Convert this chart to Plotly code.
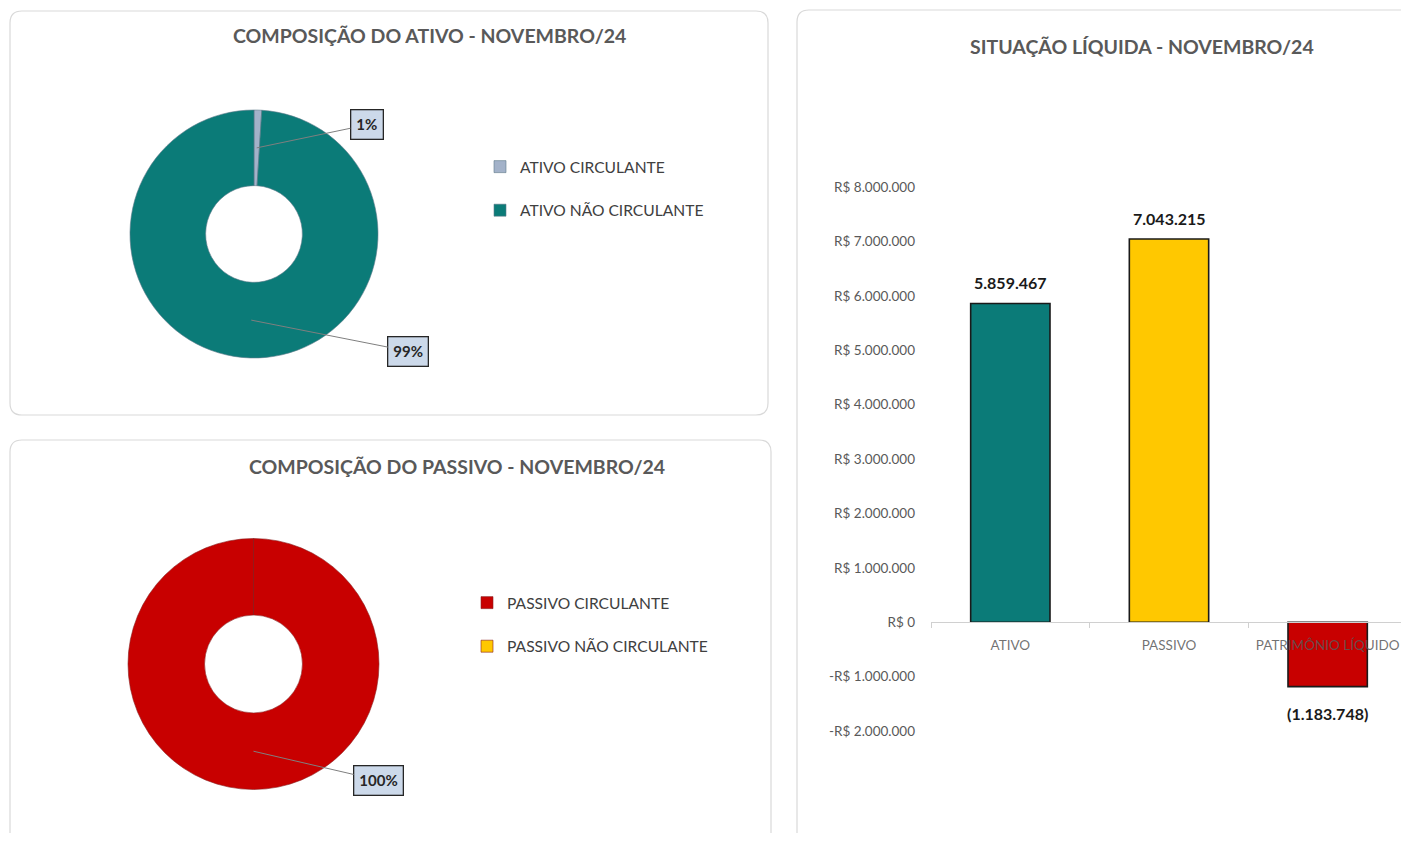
import math
import plotly.graph_objects as go

# figure size (page body has an 8px margin, so the figure is the window minus 16px)
FW, FH = 1393, 825
OFF = 8

# ---------------- data ----------------
ativo_labels = ["ATIVO CIRCULANTE", "ATIVO NÃO CIRCULANTE"]
ativo_values = [58600, 5800867]
ativo_colors = ["#A3B2C9", "#0B7B78"]

passivo_labels = ["PASSIVO CIRCULANTE", "PASSIVO NÃO CIRCULANTE"]
passivo_values = [7043215, 0]
passivo_colors = ["#C80000", "#FFC800"]

sit_categories = ["ATIVO", "PASSIVO", "PATRIMÔNIO LÍQUIDO"]
sit_values = [5859467, 7043215, -1183748]
sit_colors = ["#0B7B78", "#FFC800", "#C80000"]

y_tickvals = [8000000, 7000000, 6000000, 5000000, 4000000, 3000000, 2000000, 1000000, 0, -1000000, -2000000]

titles = ["COMPOSIÇÃO DO ATIVO - NOVEMBRO/24",
          "COMPOSIÇÃO DO PASSIVO - NOVEMBRO/24",
          "SITUAÇÃO LÍQUIDA - NOVEMBRO/24"]

FONT = "Lato"
GRAY = "#595959"


def PX(x):  # window pixel -> paper x
    return (x - OFF) / FW


def PY(y):  # window pixel -> paper y
    return 1 - (y - OFF) / FH


def br_num(v):
    return f"{abs(int(v)):,}".replace(",", ".")


def money(v):
    return ("-" if v < 0 else "") + "R$ " + br_num(v)


def label_num(v):
    return br_num(v) if v >= 0 else "(" + br_num(v) + ")"


fig = go.Figure()

# ---------------- pies ----------------
pie_boxes = {
    "ativo": dict(x0=130, x1=378, y0=110, y1=358),
    "passivo": dict(x0=128, x1=379, y0=538, y1=790),
}
HOLE = 0.39


def pdomain(b):
    return dict(x=[PX(b["x0"]), PX(b["x1"])], y=[PY(b["y1"]), PY(b["y0"])])


def legend_label(s):
    return s + "<br> "


fig.add_trace(go.Pie(
    labels=[legend_label(s) for s in ativo_labels], values=ativo_values, hole=HOLE, sort=False,
    direction="clockwise", rotation=0, textinfo="none",
    marker=dict(colors=ativo_colors, line=dict(color="#5E7A8A", width=0.6)),
    domain=pdomain(pie_boxes["ativo"]), legend="legend", showlegend=True,
    hovertemplate="%{label}%{value:,}<extra></extra>",
))
fig.add_trace(go.Pie(
    labels=[legend_label(s) for s in passivo_labels], values=passivo_values, hole=HOLE, sort=False,
    direction="clockwise", rotation=0, textinfo="none",
    marker=dict(colors=passivo_colors, line=dict(color="#8A2020", width=0.6)),
    domain=pdomain(pie_boxes["passivo"]), legend="legend2", showlegend=True,
    hovertemplate="%{label}%{value:,}<extra></extra>",
))


def pie_label_annotations(values, box, offsets):
    cx = (box["x0"] + box["x1"]) / 2
    cy = (box["y0"] + box["y1"]) / 2
    r = min(box["x1"] - box["x0"], box["y1"] - box["y0"]) / 2
    rmid = r * (1 + HOLE) / 2
    total = sum(values)
    cum = 0
    anns = []
    for v, off in zip(values, offsets):
        if v <= 0:
            cum += v
            continue
        th = 2 * math.pi * (cum + v / 2) / total
        cum += v
        px = cx + rmid * math.sin(th)
        py = cy - rmid * math.cos(th)
        pct = round(100 * v / total)
        anns.append(dict(
            x=PX(px), y=PY(py), xref="paper", yref="paper",
            text=f"<b>{pct}%</b>", showarrow=True, arrowhead=0, arrowwidth=1,
            arrowcolor="#7F7F7F", ax=off[0], ay=off[1],
            bgcolor="#CCD9EA", bordercolor="#262626", borderwidth=1.3, borderpad=5,
            font=dict(family=FONT, size=15, color="#262626"),
        ))
    return anns


annotations = []
annotations += pie_label_annotations(ativo_values, pie_boxes["ativo"], [(110, -23), (157, 31)])
annotations += pie_label_annotations(passivo_values, pie_boxes["passivo"], [(125, 29), (0, 0)])

# ---------------- bar chart ----------------
ymin, ymax = -2000000, 8000000
ydom = [PY(731), PY(187)]
ax_left, ax_right_full = 931, 1407          # category axis extent in the reference
ax_right = min(ax_right_full, OFF + FW)      # figure edge clips it
xdom = [PX(ax_left), PX(ax_right)]
ncat = len(sit_categories)
xrange_end = -0.5 + ncat * (ax_right - ax_left) / (ax_right_full - ax_left)
zero_pos = ydom[0] + (0 - ymin) / (ymax - ymin) * (ydom[1] - ydom[0])

fig.add_trace(go.Bar(
    x=sit_categories, y=sit_values,
    marker=dict(color=sit_colors, line=dict(color="#1A1A1A", width=1.6)),
    cliponaxis=False, showlegend=False, hoverinfo="x+y",
))

for c, v in zip(sit_categories, sit_values):
    annotations.append(dict(
        x=c, y=v, xref="x", yref="y", text=f"<b>{label_num(v)}</b>", showarrow=False,
        xanchor="center", yanchor="middle", yshift=21 if v >= 0 else -27,
        font=dict(family=FONT, size=16, color="#1A1A1A"),
    ))

fig.update_layout(
    xaxis=dict(domain=xdom, range=[-0.5, xrange_end], anchor="free", position=zero_pos,
               showgrid=False, showline=True, linecolor="#D0D0D0", linewidth=1,
               ticks="outside", tickson="boundaries", ticklen=5, tickcolor="#D0D0D0",
               tickfont=dict(family=FONT, size=13.5, color="rgba(89,89,89,0.85)"),
               layer="above traces",
               ticklabelstandoff=11, fixedrange=True, automargin=False),
    yaxis=dict(domain=ydom, range=[ymin, ymax], showgrid=False, zeroline=False,
               showline=False, tickvals=y_tickvals, ticktext=[money(v) for v in y_tickvals],
               tickfont=dict(family=FONT, size=13.5, color=GRAY), ticklen=0, ticks="",
               ticklabelstandoff=15, fixedrange=True, automargin=False),
    bargap=0.5,
)

# ---------------- titles ----------------
title_pos = [(429, 36), (457, 466), (1142, 47)]
for t, (tx, ty) in zip(titles, title_pos):
    annotations.append(dict(
        x=PX(tx), y=PY(ty), xref="paper", yref="paper", text=f"<b>{t}</b>",
        showarrow=False, xanchor="center", yanchor="middle",
        font=dict(family=FONT, size=19.5, color=GRAY),
    ))


# ---------------- panels ----------------
def rounded(x0, y0, x1, y1, r=12):
    X0, X1 = PX(x0), PX(x1)
    Y0, Y1 = PY(y1), PY(y0)
    rx, ry = r / FW, r / FH
    return (f"M {X0+rx} {Y1} L {X1-rx} {Y1} Q {X1} {Y1} {X1} {Y1-ry} "
            f"L {X1} {Y0+ry} Q {X1} {Y0} {X1-rx} {Y0} L {X0+rx} {Y0} "
            f"Q {X0} {Y0} {X0} {Y0+ry} L {X0} {Y1-ry} Q {X0} {Y1} {X0+rx} {Y1} Z")


shapes = []
for (a, b, c, d) in [(10, 11, 768, 415), (10, 440, 771, 852), (797, 10, 1420, 852)]:
    shapes.append(dict(type="path", path=rounded(a, b, c, d), xref="paper", yref="paper",
                       line=dict(color="#D9D9D9", width=1.2), fillcolor="rgba(0,0,0,0)",
                       layer="below"))

legend_common = dict(bgcolor="rgba(0,0,0,0)", font=dict(family=FONT, size=15.6, color="#404040"),
                     xanchor="left", yanchor="top", valign="top",
                     itemclick=False, itemdoubleclick=False)

fig.update_layout(
    width=FW, height=FH, margin=dict(l=0, r=0, t=0, b=0, autoexpand=False),
    paper_bgcolor="white", plot_bgcolor="white",
    font=dict(family=FONT, color=GRAY),
    annotations=annotations, shapes=shapes,
    legend=dict(x=PX(480), y=PY(150), **legend_common),
    legend2=dict(x=PX(467), y=PY(586), **legend_common),
)

fig.write_html("out.html")
